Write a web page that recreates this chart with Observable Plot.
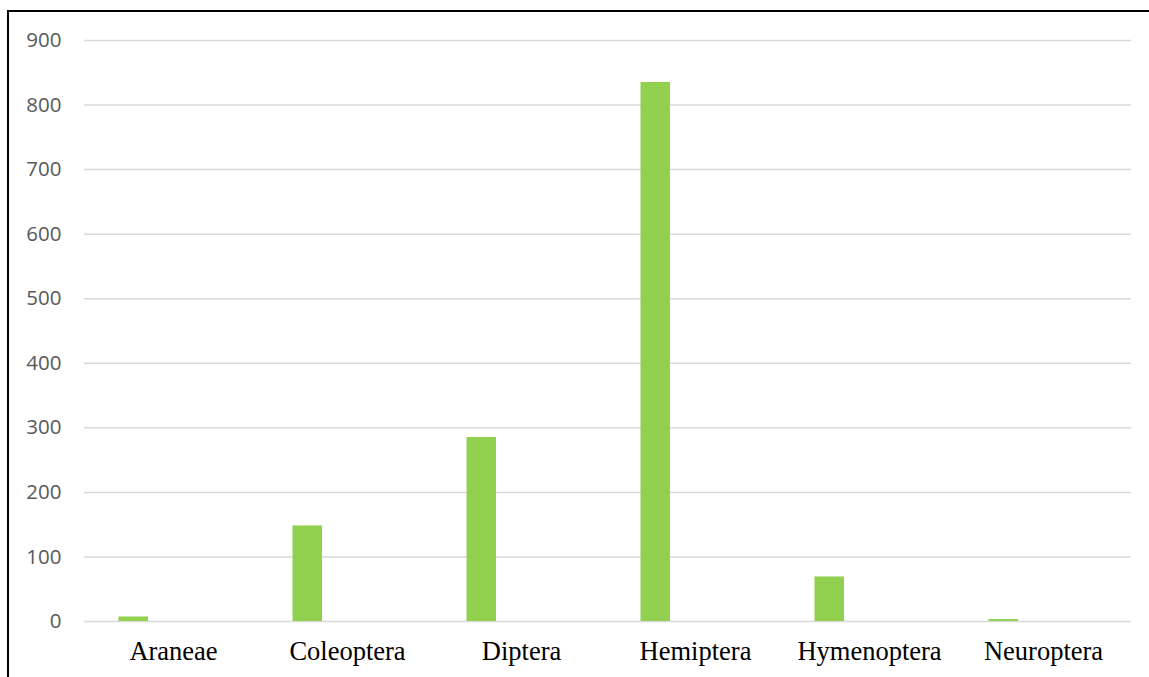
<!DOCTYPE html>
<html>
<head>
<meta charset="utf-8">
<script src="https://cdn.jsdelivr.net/npm/d3@7"></script>
<script src="https://cdn.jsdelivr.net/npm/@observablehq/plot@0.6"></script>
<style>
  html, body { margin: 0; padding: 0; background: #fff; }
  #wrap { position: relative; width: 1149px; height: 677px; overflow: hidden; }
  #chart { position: absolute; left: 0; top: 0; }
  #frame { position: absolute; left: 7px; top: 10px; width: 1160px; height: 700px;
           border-left: 2px solid #000; border-top: 2px solid #000; pointer-events: none; }
</style>
</head>
<body>
<div id="wrap"><div id="chart"></div><div id="frame"></div></div>
<script>
const categories = ["Araneae", "Coleoptera", "Diptera", "Hemiptera", "Hymenoptera", "Neuroptera"];
const values = [7, 148, 285, 835, 69, 3];
const yTicks = [0, 100, 200, 300, 400, 500, 600, 700, 800, 900];

const data = categories.map((c, i) => ({category: c, value: values[i]}));

const chart = Plot.plot({
  width: 1149,
  height: 677,
  marginLeft: 84,
  marginRight: 18,
  marginTop: 40,
  marginBottom: 56,
  x: {domain: categories, padding: 0},
  y: {domain: [0, 900], ticks: yTicks},
  marks: [
    Plot.gridY(yTicks, {stroke: "#d9d9d9", strokeOpacity: 1, strokeWidth: 1.5}),
    Plot.barY(data, {x: "category", y: "value", fill: "#92d050", insetLeft: 32.5, insetRight: 112}),
    Plot.axisY(yTicks, {tickSize: 0, tickPadding: 23, fontSize: 20.5, fill: "#595959",
      fontFamily: "Open Sans", label: null}),
    Plot.axisX({tickSize: 0, tickPadding: 20, fontSize: 26.5, fill: "#000",
      fontFamily: "Liberation Serif", label: null})
  ]
});
document.getElementById("chart").appendChild(chart);
</script>
</body>
</html>
